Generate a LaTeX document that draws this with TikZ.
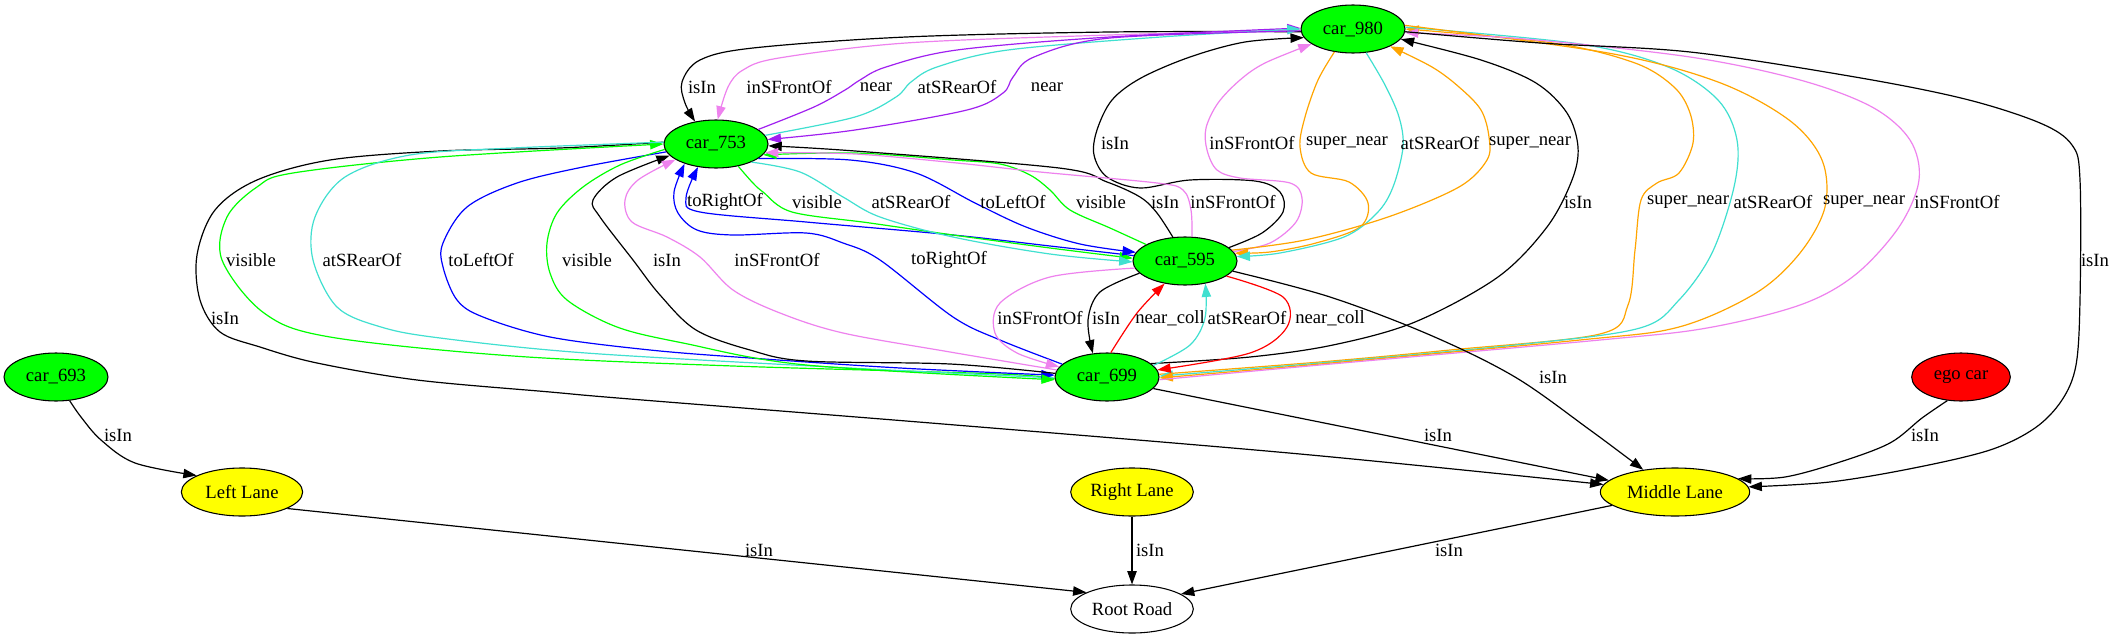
\documentclass[tikz,border=0pt]{standalone}
\usepackage{fontspec}
\setmainfont{Liberation Serif}
\usetikzlibrary{shapes.geometric,arrows.meta}
\definecolor{ggreen}{RGB}{0,255,0}
\definecolor{gcyan}{RGB}{64,224,208}
\definecolor{gpink}{RGB}{238,130,238}
\definecolor{gpurple}{RGB}{160,32,240}
\definecolor{gorange}{RGB}{255,165,0}
\definecolor{gblue}{RGB}{0,0,255}
\definecolor{gred}{RGB}{255,0,0}
\definecolor{gyellow}{RGB}{255,255,0}
\begin{document}
\begin{tikzpicture}[x=0.75pt,y=-0.75pt,
  base/.style={ellipse,draw=black,line width=0.8pt,inner sep=0pt,minimum height=36pt,font=\fontsize{14}{16}\selectfont},
  car/.style={base,fill=ggreen,minimum width=78pt},
  lane/.style={base,fill=gyellow},
  lbl/.style={inner sep=0pt,font=\fontsize{14}{16}\selectfont},
  rel/.style={line width=0.9pt,-{Triangle[length=10pt,width=7pt]}},
  sm/.style={smooth,tension=0.55}]
\fill[white] (0,0) rectangle (2113,639);
\useasboundingbox (0,0) rectangle (2113,639);
% nodes
\node[car] (c980) at (1353,29) {car\_980};
\node[car] (c753) at (716,144) {car\_753};
\node[car] (c595) at (1185,261) {car\_595};
\node[car] (c699) at (1107,377) {car\_699};
\node[car] (c693) at (56,377) {car\_693};
\node[base,fill=gred,minimum width=74pt] (ego) at (1961,377) {ego car};
\node[lane,minimum width=91pt] (LeftLane) at (242,492) {Left Lane};
\node[lane,minimum width=92pt] (RightLane) at (1132,492) {Right Lane};
\node[lane,minimum width=112pt] (MidLane) at (1675,492) {Middle Lane};
\node[base,fill=white,minimum width=92pt] (Root) at (1132,609) {Root Road};
% car_980 <-> car_753
\draw[rel,black] plot[sm] coordinates {(c980.183) (1110,32) (906,37) (753,48) (700,60) (682,82) (685,103) (c753.133)};
\draw[rel,gpink] plot[sm] coordinates {(c980.181) (1110,35) (906,43) (779,58) (743,70) (728,87) (c753.86)};
\draw[rel,gpurple] plot[sm] coordinates {(c753.19) (814,107) (845,90) (860,80) (886,67) (957,50) (1110,37) (c980.179)};
\draw[rel,gcyan] plot[sm] coordinates {(c753.10) (855,117) (896,97) (911,82) (937,67) (1008,50) (1161,37) (c980.180)};
\draw[rel,gpurple] plot[sm] coordinates {(c980.182) (1110,38) (1034,57) (1013,77) (1003,93) (967,110) (855,130) (c753.5)};
% car_595 <-> car_980
\draw[rel,black] plot[sm] coordinates {(c595.17) (1262,233) (1283,212) (1280,192) (1255,181) (1190,180) (1140,188) (1107,177) (1094,155) (1097,130) (1112,100) (1141,78) (1190,57) (1245,42) (c980.190)};
\draw[rel,gpink] plot[sm] coordinates {(c595.11) (1270,243) (1296,222) (1302,198) (1290,183) (1240,178) (1217,170) (1207,150) (1206,128) (1218,103) (1240,80) (1265,63) (c980.200)};
\draw[rel,gorange] plot[sm] coordinates {(c980.231) (1318,80) (1305,117) (1300,147) (1311,173) (1349,182) (1368,203) (1360,227) (1316,243) (1270,252) (c595.9)};
\draw[rel,gcyan] plot[sm] coordinates {(c980.299) (1385,85) (1399,117) (1403,147) (1393,187) (1377,213) (1344,237) (1280,253) (c595.5)};
\draw[rel,gorange] plot[sm] coordinates {(c595.13) (1305,240) (1388,217) (1459,187) (1487,160) (1489,137) (1481,110) (1459,87) (1432,67) (c980.335)};
% car_699 <-> car_980
\draw[rel,black] plot[sm] coordinates {(c699.17) (1250,357) (1333,345) (1415,322) (1498,277) (1547,227) (1572,180) (1578,147) (1567,113) (1536,83) (1481,60) (c980.348)};
\draw[rel,gorange] plot[sm] coordinates {(c699.3) (1320,362) (1450,350) (1600,334) (1628,305) (1635,250) (1641,200) (1657,183) (1679,173) (1693,143) (1690,113) (1674,87) (1635,63) (1553,43) (c980.0)};
\draw[rel,gcyan] plot[sm] coordinates {(c980.2) (1580,44) (1668,67) (1718,100) (1737,140) (1734,187) (1712,253) (1679,300) (1640,328) (1525,344) (1320,363) (c699.1)};
\draw[rel,gorange] plot[sm] coordinates {(c980.4) (1608,53) (1718,82) (1789,120) (1822,160) (1825,207) (1800,253) (1756,293) (1679,327) (1580,340) (1320,364) (c699.359)};
\draw[rel,gpink] plot[sm] coordinates {(c699.357) (1320,365) (1600,340) (1707,328) (1800,305) (1855,275) (1899,227) (1919,180) (1910,140) (1872,107) (1800,80) (1690,57) (1525,39) (c980.356)};
% to Middle Lane
\draw[rel,black] plot[sm] coordinates {(c980.357) (1540,43) (1690,52) (1855,77) (1965,99) (2040,123) (2072,145) (2080,180) (2080,300) (2076,365) (2062,400) (2035,428) (1990,450) (1914,468) (1830,482) (MidLane.4)};
\draw[rel,black] plot[sm] coordinates {(ego.240) (1922,418) (1890,443) (1840,462) (1785,477) (MidLane.12)};
\draw[rel,black] plot[sm] coordinates {(c595.348) (1330,297) (1430,335) (1515,377) (1590,430) (MidLane.145)};
\draw[rel,black] (c699.346) -- (MidLane.170);
\draw[rel,black] plot[sm] coordinates {(c753.178) (560,148) (440,151) (330,160) (257,180) (215,210) (197,255) (200,300) (220,332) (260,347) (317,363) (417,380) (550,392) (630,399) (943,424) (1300,454) (MidLane.174)};
% car_753 <-> car_699
\draw[rel,ggreen] plot[sm] coordinates {(c699.182) (1000,374) (733,366) (513,356) (330,337) (264,313) (222,260) (227,217) (257,187) (293,173) (440,157) (c753.180)};
\draw[rel,gcyan] plot[sm] coordinates {(c753.178) (513,148) (410,155) (345,177) (315,217) (313,260) (337,307) (381,327) (440,338) (586,353) (850,368) (c699.181)};
\draw[rel,gblue] plot[sm] coordinates {(c753.189) (583,167) (517,183) (467,207) (443,243) (443,267) (457,300) (483,317) (550,337) (650,350) (750,358) (900,368) (c699.178)};
\draw[rel,ggreen] plot[sm] coordinates {(c753.186) (620,165) (583,187) (557,213) (547,243) (550,273) (567,300) (617,327) (683,343) (806,365) (c699.183)};
\draw[rel,black] plot[sm] coordinates {(c699.176) (950,364) (806,361) (750,350) (696,330) (660,295) (633,260) (600,217) (593,200) (617,177) (c753.194)};
\draw[rel,gpink] plot[sm] coordinates {(c699.172) (950,352) (843,333) (780,313) (733,290) (700,257) (667,237) (632,222) (625,200) (638,180) (c753.201)};
\draw[rel,gblue] plot[sm] coordinates {(c699.164) (1000,340) (953,317) (880,260) (843,243) (806,233) (733,235) (697,230) (678,213) (674,192) (c753.212)};
% car_753 <-> car_595
\draw[rel,gblue] plot[sm] coordinates {(c595.174) (1050,246) (953,235) (806,222) (700,212) (686,198) (c753.232)};
\draw[rel,ggreen] plot[sm] coordinates {(c753.315) (752,182) (763,192) (792,212) (870,223) (953,235) (1050,248) (c595.177)};
\draw[rel,gcyan] plot[sm] coordinates {(c753.333) (800,172) (843,197) (880,217) (953,237) (1050,254) (c595.181)};
\draw[rel,gblue] plot[sm] coordinates {(c753.341) (850,160) (916,173) (975,203) (1026,227) (1080,244) (c595.170)};
\draw[rel,ggreen] plot[sm] coordinates {(c595.157) (1110,228) (1070,210) (1050,190) (1030,175) (1000,164) (953,160) (855,153) (c753.347)};
\draw[rel,black] plot[sm] coordinates {(c595.117) (1157,213) (1140,197) (1107,182) (1059,168) (855,151) (c753.358)};
\draw[rel,gpink] plot[sm] coordinates {(c595.74) (1191,210) (1183,190) (1157,183) (1040,172) (957,163) (855,154) (c753.350)};
% car_595 <-> car_699
\draw[rel,gpink] plot[sm] coordinates {(c595.188) (1050,277) (1000,303) (995,333) (1017,353) (c699.168)};
\draw[rel,black] plot[sm] coordinates {(c595.195) (1100,292) (1088,320) (c699.121)};
\draw[rel,gred] plot[sm] coordinates {(c699.81) (1137,313) (c595.228)};
\draw[rel,gcyan] plot[sm] coordinates {(c699.14) (1190,345) (1205,318) (c595.312)};
\draw[rel,gred] plot[sm] coordinates {(c595.340) (1283,297) (1287,327) (1250,353) (c699.8)};
% lanes
\draw[rel,black] plot[sm] coordinates {(c693.300) (81,417) (101,440) (135,463) (LeftLane.160)};
\draw[rel,black] (LeftLane.340) -- (Root.160);
\draw[rel,black] (RightLane) -- (Root);
\draw[rel,black] (MidLane.192) -- (Root.17);
% labels
\node[lbl] (t1) at (702,87) {isIn};
\node[lbl] (t2) at (789,87) {inSFrontOf};
\node[lbl] (t3) at (876,87) {near};
\node[lbl] (t4) at (957,87) {atSRearOf};
\node[lbl] (t5) at (1047,87) {near};
\node[lbl] (t6) at (1115,143) {isIn};
\node[lbl] (t7) at (1252,143) {inSFrontOf};
\node[lbl] (t8) at (1347,143) {super\_near};
\node[lbl] (t9) at (1440,143) {atSRearOf};
\node[lbl] (t10) at (1530,143) {super\_near};
\node[lbl] (t11) at (725,202) {toRightOf};
\node[lbl] (t12) at (817,202) {visible};
\node[lbl] (t13) at (911,202) {atSRearOf};
\node[lbl] (t14) at (1013,202) {toLeftOf};
\node[lbl] (t15) at (1101,202) {visible};
\node[lbl] (t16) at (1165,202) {isIn};
\node[lbl] (t17) at (1233,202) {inSFrontOf};
\node[lbl] (t18) at (1578,202) {isIn};
\node[lbl] (t19) at (1688,202) {super\_near};
\node[lbl] (t20) at (1773,202) {atSRearOf};
\node[lbl] (t21) at (1864,202) {super\_near};
\node[lbl] (t22) at (1957,202) {inSFrontOf};
\node[lbl] (t23) at (251,260) {visible};
\node[lbl] (t24) at (362,260) {atSRearOf};
\node[lbl] (t25) at (481,260) {toLeftOf};
\node[lbl] (t26) at (587,260) {visible};
\node[lbl] (t27) at (667,260) {isIn};
\node[lbl] (t28) at (777,260) {inSFrontOf};
\node[lbl] (t29) at (949,260) {toRightOf};
\node[lbl] (t30) at (2095,260) {isIn};
\node[lbl] (t31) at (225,318) {isIn};
\node[lbl] (t32) at (1040,318) {inSFrontOf};
\node[lbl] (t33) at (1106,318) {isIn};
\node[lbl] (t34) at (1170,318) {near\_coll};
\node[lbl] (t35) at (1247,318) {atSRearOf};
\node[lbl] (t36) at (1330,318) {near\_coll};
\node[lbl] (t37) at (1553,377) {isIn};
\node[lbl] (t38) at (118,435) {isIn};
\node[lbl] (t39) at (1438,435) {isIn};
\node[lbl] (t40) at (1925,435) {isIn};
\node[lbl] (t41) at (759,550) {isIn};
\node[lbl] (t42) at (1150,550) {isIn};
\node[lbl] (t43) at (1449,550) {isIn};
\end{tikzpicture}
\end{document}
